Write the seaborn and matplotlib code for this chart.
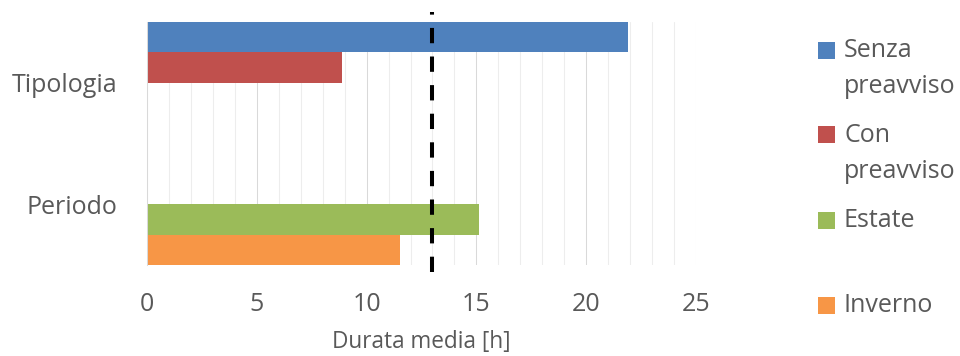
import matplotlib
matplotlib.use("Agg")
import matplotlib.pyplot as plt
import seaborn as sns
import pandas as pd
from matplotlib.patches import Rectangle
from matplotlib.ticker import MultipleLocator

# ---- data ----
categorie = ["Tipologia", "Periodo"]
serie = ["Senza\npreavviso", "Con\npreavviso", "Estate", "Inverno"]
serie_categoria = ["Tipologia", "Tipologia", "Periodo", "Periodo"]
valori = [21.9, 8.9, 15.1, 11.5]
colori = ["#4F81BD", "#C0504D", "#9BBB59", "#F79646"]
media = 13.0
x_ticks = [0, 5, 10, 15, 20, 25]
x_label = "Durata media [h]"

df = pd.DataFrame({"categoria": serie_categoria, "serie": serie, "valore": valori})

sns.set_theme(style="white")
plt.rcParams["font.family"] = ["Open Sans", "DejaVu Sans"]

W, H = 960, 356
fig = plt.figure(figsize=(W / 100, H / 100), dpi=100)
ax = fig.add_axes([147 / W, 1 - 265 / H, (696 - 147) / W, (265 - 22) / H])

sns.barplot(data=df, y="categoria", x="valore", hue="serie", order=categorie,
            hue_order=serie, palette=colori, saturation=1, width=1.0,
            linewidth=0, orient="h", legend=False, ax=ax)

ax.set_xlim(x_ticks[0], x_ticks[-1])
ax.set_ylim(1.5, -0.5)
ax.xaxis.set_major_locator(MultipleLocator(5))
ax.xaxis.set_minor_locator(MultipleLocator(1))
ax.set_xticks(x_ticks)
ax.grid(True, axis="x", which="major", color="#D9D9D9", linewidth=0.75)
ax.grid(True, axis="x", which="minor", color="#EDEDED", linewidth=0.75)
ax.grid(False, axis="y")
ax.set_axisbelow(True)

for s in ["top", "right", "bottom"]:
    ax.spines[s].set_visible(False)
ax.spines["left"].set_color("#D9D9D9")
ax.spines["left"].set_linewidth(0.75)

ax.tick_params(axis="x", which="both", length=0, pad=19.5, labelsize=18, labelcolor="#595959")
ax.tick_params(axis="y", which="both", length=0, pad=21, labelsize=18, labelcolor="#595959")
ax.set_ylabel("")
ax.set_xlabel(x_label, fontsize=16.3, color="#595959", labelpad=9)

# average dashed line
ax.axvline(media, ymin=-0.03, ymax=1.041, clip_on=False, color="black",
           linewidth=2.9, dashes=(3.8, 3.3), zorder=5)

# legend (manual, Excel-like spacing)
tf = fig.transFigure
for i, (lab, col) in enumerate(zip(serie, colori)):
    cy = 50 + 85 * i
    fig.add_artist(Rectangle((818 / W, 1 - (cy + 8.5) / H), 17 / W, 17 / H,
                             transform=tf, facecolor=col, edgecolor="none"))
    for j, line in enumerate(lab.split("\n")):
        fig.text(844 / W, 1 - (cy + 7 + 36 * j) / H, line, transform=tf,
                 fontsize=18, color="#595959", va="baseline", ha="left")

fig.savefig("out.png", dpi=100)
